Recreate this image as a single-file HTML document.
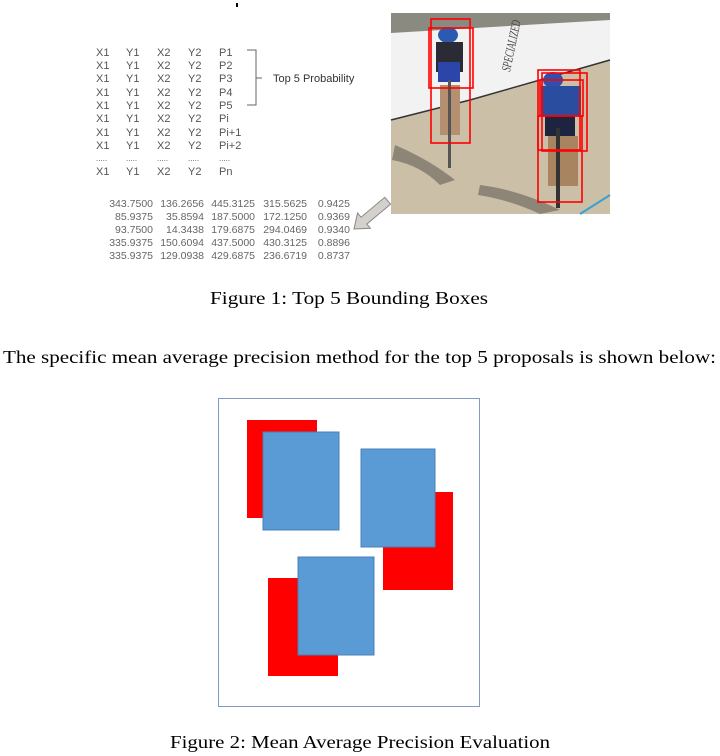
<!DOCTYPE html>
<html><head><meta charset="utf-8"><style>
html,body{margin:0;padding:0;background:#fff;}
svg{display:block;}
</style></head><body>
<svg width="720" height="756" viewBox="0 0 720 756" xmlns="http://www.w3.org/2000/svg">
<rect x="236" y="3" width="2" height="4" fill="#000"/>
<g font-family="Liberation Sans, sans-serif" font-size="11" fill="#555">
<text x="96" y="56">X1</text><text x="126" y="56">Y1</text><text x="157" y="56">X2</text><text x="188" y="56">Y2</text><text x="219" y="56">P1</text>
<text x="96" y="69">X1</text><text x="126" y="69">Y1</text><text x="157" y="69">X2</text><text x="188" y="69">Y2</text><text x="219" y="69">P2</text>
<text x="96" y="82">X1</text><text x="126" y="82">Y1</text><text x="157" y="82">X2</text><text x="188" y="82">Y2</text><text x="219" y="82">P3</text>
<text x="96" y="96">X1</text><text x="126" y="96">Y1</text><text x="157" y="96">X2</text><text x="188" y="96">Y2</text><text x="219" y="96">P4</text>
<text x="96" y="109">X1</text><text x="126" y="109">Y1</text><text x="157" y="109">X2</text><text x="188" y="109">Y2</text><text x="219" y="109">P5</text>
<text x="96" y="122">X1</text><text x="126" y="122">Y1</text><text x="157" y="122">X2</text><text x="188" y="122">Y2</text><text x="219" y="122">Pi</text>
<text x="96" y="136">X1</text><text x="126" y="136">Y1</text><text x="157" y="136">X2</text><text x="188" y="136">Y2</text><text x="219" y="136">Pi+1</text>
<text x="96" y="149">X1</text><text x="126" y="149">Y1</text><text x="157" y="149">X2</text><text x="188" y="149">Y2</text><text x="219" y="149">Pi+2</text>
<text x="96" y="161" font-size="8">.....</text><text x="126" y="161" font-size="8">.....</text><text x="157" y="161" font-size="8">.....</text><text x="188" y="161" font-size="8">.....</text><text x="219" y="161" font-size="8">.....</text>
<text x="96" y="175">X1</text><text x="126" y="175">Y1</text><text x="157" y="175">X2</text><text x="188" y="175">Y2</text><text x="219" y="175">Pn</text>
<text x="273" y="82" fill="#333">Top 5 Probability</text>
</g>
<path d="M247 50 H256 V105 H247 M256 78 H262" fill="none" stroke="#666" stroke-width="1"/>
<g font-family="Liberation Sans, sans-serif" font-size="10.5" fill="#666" text-anchor="end">
<text x="153" y="207">343.7500</text><text x="204" y="207">136.2656</text><text x="255" y="207">445.3125</text><text x="307" y="207">315.5625</text><text x="350" y="207">0.9425</text>
<text x="153" y="220">85.9375</text><text x="204" y="220">35.8594</text><text x="255" y="220">187.5000</text><text x="307" y="220">172.1250</text><text x="350" y="220">0.9369</text>
<text x="153" y="233">93.7500</text><text x="204" y="233">14.3438</text><text x="255" y="233">179.6875</text><text x="307" y="233">294.0469</text><text x="350" y="233">0.9340</text>
<text x="153" y="246">335.9375</text><text x="204" y="246">150.6094</text><text x="255" y="246">437.5000</text><text x="307" y="246">430.3125</text><text x="350" y="246">0.8896</text>
<text x="153" y="259">335.9375</text><text x="204" y="259">129.0938</text><text x="255" y="259">429.6875</text><text x="307" y="259">236.6719</text><text x="350" y="259">0.8737</text>
</g>
<!-- photo -->
<rect x="391" y="13" width="219" height="201" fill="#cfc5b0"/>
<rect x="391" y="13" width="219" height="20" fill="#8a8a80"/>
<path d="M391 33 L610 20 L610 60 Q540 80 470 100 L391 120 Z" fill="#f2f2f2"/>
<path d="M391 120 L470 100 Q540 80 610 60 L610 214 L391 214 Z" fill="#cbbfa8"/>
<path d="M391 120 L470 100 Q540 80 610 60" fill="none" stroke="#333" stroke-width="1.5"/>
<text x="510" y="72" font-family="Liberation Serif, serif" font-style="italic" font-size="13" fill="#444" transform="rotate(-78 510 72)" textLength="52" lengthAdjust="spacingAndGlyphs">SPECIALIZED</text>
<path d="M580 214 L610 195" stroke="#3aa0d0" stroke-width="2"/>
<path d="M395 145 Q430 160 455 180 L440 185 Q420 165 392 160Z" fill="#8d8575"/>
<path d="M480 185 Q520 190 560 210 L540 214 Q510 200 478 195Z" fill="#8d8575"/>
<ellipse cx="448" cy="35" rx="10" ry="8" fill="#2a5bb0"/>
<rect x="436" y="42" width="27" height="30" fill="#2b2b35"/>
<rect x="438" y="62" width="22" height="20" fill="#2c45a8"/>
<rect x="440" y="85" width="20" height="50" fill="#b59070"/>
<rect x="448" y="80" width="3" height="88" fill="#555"/>
<ellipse cx="553" cy="80" rx="10" ry="8" fill="#3050b0"/>
<rect x="541" y="86" width="40" height="30" fill="#2a4da0"/>
<rect x="545" y="116" width="30" height="20" fill="#1d2440"/>
<rect x="548" y="136" width="30" height="50" fill="#a88460"/>
<rect x="556" y="128" width="4" height="80" fill="#333"/>
<g fill="none" stroke="#f00" stroke-width="1.6">
<rect x="431" y="19" width="39" height="124"/>
<rect x="429" y="28" width="44" height="60"/>
<rect x="538" y="70" width="42" height="80"/>
<rect x="542" y="73" width="45" height="78"/>
<rect x="540" y="80" width="43" height="36"/>
<rect x="538" y="116" width="44" height="86"/>
</g>
<!-- arrow -->
<polygon points="0,0 13,-10 13,-4.5 44,-4.5 44,4.5 13,4.5 13,10" fill="#d4d0cc" stroke="#888" stroke-width="1" transform="translate(354,229) rotate(-40)"/>
<g font-family="Liberation Serif, serif" fill="#000">
<text x="349" y="304" font-size="18" text-anchor="middle" textLength="278" lengthAdjust="spacingAndGlyphs">Figure 1: Top 5 Bounding Boxes</text>
<text x="3" y="363" font-size="18" textLength="713" lengthAdjust="spacingAndGlyphs">The specific mean average precision method for the top 5 proposals is shown below:</text>
<text x="360" y="748" font-size="18" text-anchor="middle" textLength="380" lengthAdjust="spacingAndGlyphs">Figure 2: Mean Average Precision Evaluation</text>
</g>
<rect x="218.5" y="398.5" width="261" height="308" fill="#fff" stroke="#7f9cc0" stroke-width="1"/>
<rect x="247" y="420" width="70" height="98" fill="#f00"/>
<rect x="263" y="432" width="76" height="98" fill="#5b9bd5" stroke="#4a80b8"/>
<rect x="383" y="492" width="70" height="98" fill="#f00"/>
<rect x="361" y="449" width="74" height="98" fill="#5b9bd5" stroke="#4a80b8"/>
<rect x="268" y="578" width="70" height="98" fill="#f00"/>
<rect x="298" y="557" width="76" height="98" fill="#5b9bd5" stroke="#4a80b8"/>
</svg>
</body></html>
